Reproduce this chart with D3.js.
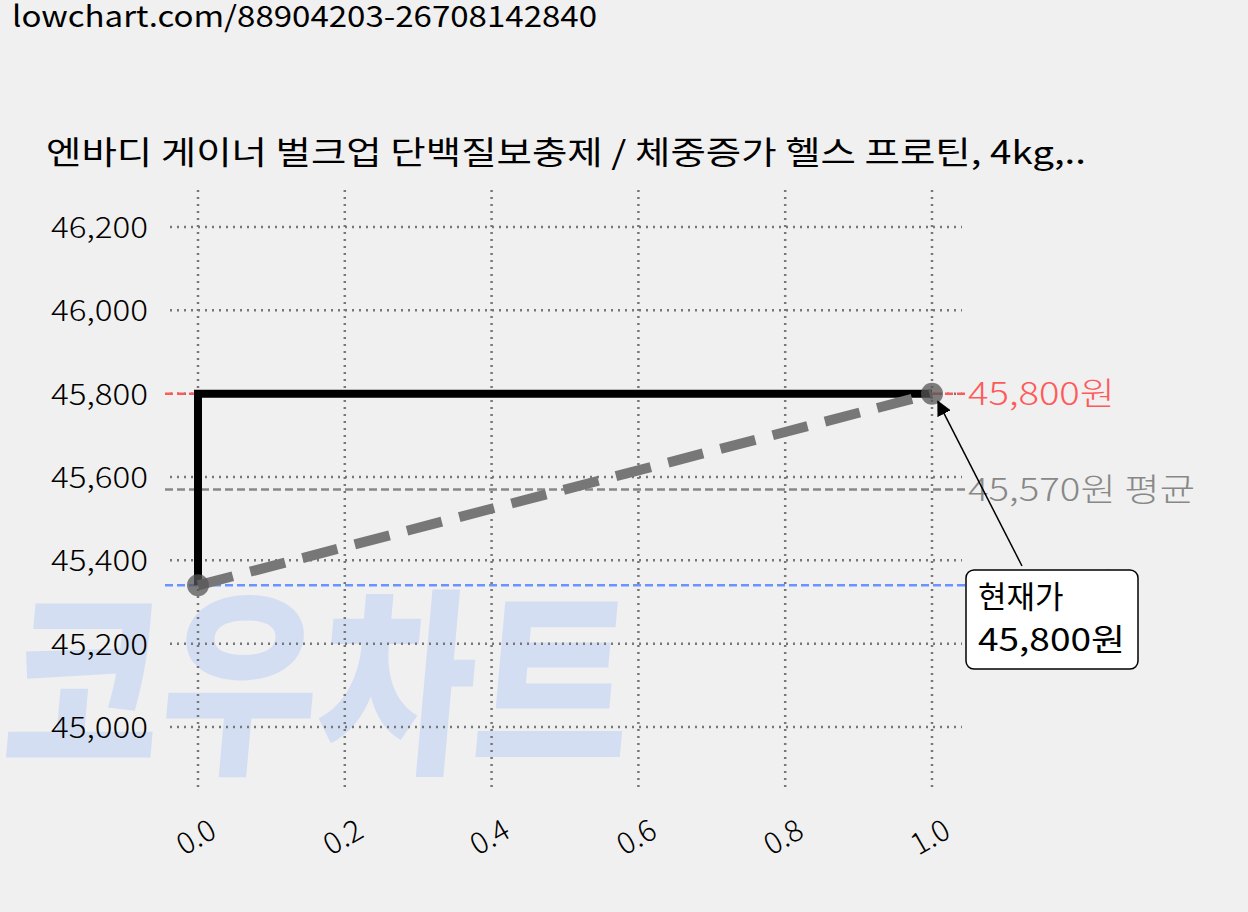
<!DOCTYPE html>
<html>
<head>
<meta charset="UTF-8">
<style>
  body { margin: 0; background: #f0f0f0; }
  svg { font-family: "Noto Sans CJK KR", "Noto Sans", sans-serif; }
</style>
</head>
<body>
<svg width="1248" height="912"></svg>
<script src="https://d3js.org/d3.v7.min.js"></script>
<script>
const xs = [0, 1];
const prices = [45340, 45800];
const yTicks = [45000, 45200, 45400, 45600, 45800, 46200, 46000];
const xTicks = [0, 0.2, 0.4, 0.6, 0.8, 1.0];
const maxPrice = 45800, avgPrice = 45570, minPrice = 45340;
const title = "엔바디 게이너 벌크업 단백질보충제 / 체중증가 헬스 프로틴, 4kg,..";

const svg = d3.select("svg");
const x = d3.scaleLinear().domain([0, 1]).range([198, 932]);
const y = d3.scaleLinear().domain([45000, 46200]).range([727, 227]);
const fmt = d3.format(",");

svg.append("text").attr("x", 12).attr("y", 27).attr("font-size", 29).attr("textLength", 585)
  .attr("lengthAdjust", "spacingAndGlyphs").text("lowchart.com/88904203-26708142840");

// watermark
svg.append("text").attr("transform", "translate(0,758) scale(0.85,1) skewX(-6)")
  .attr("font-size", 200).attr("font-weight", 900).attr("fill", "#d4def2").text("코우차트");

svg.append("text").attr("x", 46).attr("y", 164).attr("font-size", 32).attr("textLength", 1040)
  .attr("lengthAdjust", "spacingAndGlyphs").text(title);

// grid
const g = svg.append("g").attr("stroke", "#777").attr("stroke-width", 2.5).attr("stroke-dasharray", "2,5");
yTicks.forEach(t => g.append("line").attr("x1", 170).attr("x2", 962).attr("y1", y(t)).attr("y2", y(t)));
xTicks.forEach(t => g.append("line").attr("x1", x(t)).attr("x2", x(t)).attr("y1", 190).attr("y2", 790));

yTicks.forEach(t => svg.append("text").attr("x", 148).attr("y", y(t) + 11).attr("text-anchor", "end")
  .attr("font-size", 29).attr("font-weight", 300).attr("textLength", 97)
  .attr("lengthAdjust", "spacingAndGlyphs").text(fmt(t)));
xTicks.forEach(t => svg.append("text").attr("transform", `translate(${x(t) + 10},${818}) rotate(-30)`)
  .attr("text-anchor", "end").attr("font-size", 30).attr("font-weight", 300).attr("dy", "0.7em").text(t.toFixed(1)));

// reference lines
const refs = [[maxPrice, "#ff5a5a", `${fmt(maxPrice)}원`, 147], [avgPrice, "#888", `${fmt(avgPrice)}원 평균`, 227], [minPrice, "#6a93ff", `${fmt(minPrice)}원`, 147]];
refs.forEach(([v, c, lbl, w]) => {
  svg.append("line").attr("x1", 165).attr("x2", 965).attr("y1", y(v)).attr("y2", y(v))
    .attr("stroke", c).attr("stroke-width", 2.5).attr("stroke-dasharray", "8,4");
  svg.append("text").attr("x", 968).attr("y", y(v) + 11).attr("fill", c).attr("font-size", 32)
    .attr("font-weight", 300).attr("textLength", w).attr("lengthAdjust", "spacingAndGlyphs").text(lbl);
});

// step line
const step = d3.line().x(d => x(d[0])).y(d => y(d[1]));
svg.append("path").attr("d", step([[xs[0], prices[0]], [xs[0], prices[1]], [xs[1], prices[1]]]))
  .attr("fill", "none").attr("stroke", "#000").attr("stroke-width", 8);
svg.append("path").attr("d", step(xs.map((d, i) => [d, prices[i]])))
  .attr("fill", "none").attr("stroke", "#777").attr("stroke-width", 10).attr("stroke-dasharray", "36,18");
xs.forEach((d, i) => svg.append("circle").attr("cx", x(d)).attr("cy", y(prices[i])).attr("r", 11)
  .attr("fill", "#555").attr("opacity", 0.75));

// annotation
svg.append("defs").append("marker").attr("id", "ah").attr("viewBox", "0 0 10 10").attr("refX", 9).attr("refY", 5)
  .attr("markerWidth", 10).attr("markerHeight", 10).attr("orient", "auto")
  .append("path").attr("d", "M0,0L10,5L0,10z").attr("fill", "#000");
svg.append("line").attr("x1", 1022).attr("y1", 566).attr("x2", x(1) + 6).attr("y2", y(maxPrice) + 8)
  .attr("stroke", "#000").attr("stroke-width", 1.5).attr("marker-end", "url(#ah)");
svg.append("rect").attr("x", 966).attr("y", 570).attr("width", 172).attr("height", 99).attr("rx", 8)
  .attr("fill", "#fff").attr("stroke", "#000").attr("stroke-width", 1.5);
svg.append("text").attr("x", 978).attr("y", 608).attr("font-size", 31).text("현재가");
svg.append("text").attr("x", 978).attr("y", 651).attr("font-size", 31).attr("textLength", 147)
  .attr("lengthAdjust", "spacingAndGlyphs").text(`${fmt(prices[1])}원`);
</script>
</body>
</html>
